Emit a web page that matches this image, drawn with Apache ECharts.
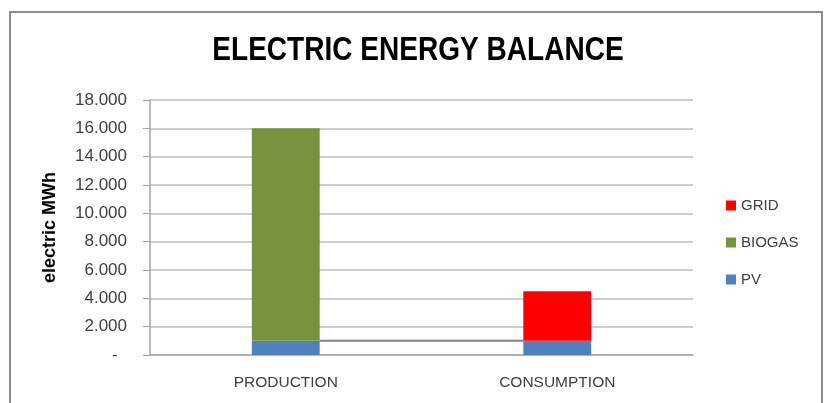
<!DOCTYPE html>
<html>
<head>
<meta charset="utf-8">
<script src="https://cdn.jsdelivr.net/npm/echarts@6/dist/echarts.min.js"></script>
<style>
html,body{margin:0;padding:0;background:#fff;}
#c{width:824px;height:403px;}
</style>
</head>
<body>
<div id="c"></div>
<script>
var categories = ['PRODUCTION', 'CONSUMPTION'];
var pv = [1000, 1000];
var biogas = [15000, 0];
var grid = [0, 3500];
var yTicks = { min: 0, max: 18000, interval: 2000 };
var title = 'ELECTRIC ENERGY BALANCE';
var yName = 'electric MWh';

var FONT = '"Liberation Sans", Arial, sans-serif';
var BAR_W = '25%';

function fmt(v) {
  if (v === 0) return '-  ';
  var s = String(Math.round(v));
  return s.replace(/\B(?=(\d{3})+(?!\d))/g, '.');
}

var chart = echarts.init(document.getElementById('c'));
chart.setOption({
  animation: false,
  backgroundColor: '#fff',
  graphic: [{
    type: 'rect',
    shape: { x: 10, y: 12, width: 812, height: 420 },
    style: { fill: 'none', stroke: '#8c8c8c', lineWidth: 2 },
    silent: true, z: 100
  }, {
    type: 'text',
    x: 418, y: 50.5,
    scaleX: 0.85,
    silent: true,
    style: {
      text: title,
      align: 'center',
      verticalAlign: 'middle',
      fontFamily: FONT,
      fontSize: 33,
      fontWeight: 'bold',
      fill: '#000'
    }
  }],
  legend: {
    orient: 'vertical',
    left: 721,
    top: 193,
    itemWidth: 10,
    itemHeight: 10,
    itemGap: 22,
    icon: 'rect',
    data: ['GRID', 'BIOGAS', 'PV'],
    textStyle: { fontFamily: FONT, fontSize: 15, color: '#404040' }
  },
  grid: { left: 150, right: 131, top: 100, bottom: 48 },
  xAxis: {
    type: 'category',
    data: categories,
    axisLine: { lineStyle: { color: '#a6a6a6', width: 1.5 } },
    axisTick: { show: false },
    axisLabel: { fontFamily: FONT, fontSize: 15.5, color: '#404040', margin: 20 }
  },
  yAxis: {
    type: 'value',
    min: yTicks.min, max: yTicks.max, interval: yTicks.interval,
    name: yName,
    nameLocation: 'middle',
    nameGap: 91,
    nameTextStyle: { fontFamily: FONT, fontSize: 18, fontWeight: 'bold', color: '#000' },
    axisLine: { show: true, lineStyle: { color: '#a6a6a6', width: 1.5 } },
    axisTick: { show: true, length: 7, lineStyle: { color: '#a6a6a6' } },
    axisLabel: { fontFamily: FONT, fontSize: 17, color: '#404040', margin: 23, formatter: fmt },
    splitLine: { lineStyle: { color: '#bdbdbd', width: 1.5 } }
  },
  series: [
    { name: 'PV', type: 'bar', stack: 's', data: pv, barWidth: BAR_W, itemStyle: { color: '#4f81bd' } },
    { name: 'BIOGAS', type: 'bar', stack: 's', data: biogas, barWidth: BAR_W, itemStyle: { color: '#77933c' } },
    { name: 'GRID', type: 'bar', stack: 's', data: grid, barWidth: BAR_W, itemStyle: { color: '#ff0000' } },
    {
      name: 'seriesLine', type: 'custom', silent: true, z: 1,
      encode: { x: 0, y: [1, 2] },
      data: [[0, pv[0], pv[1]]],
      renderItem: function (params, api) {
        var p0 = api.coord([0, api.value(1)]);
        var p1 = api.coord([1, api.value(2)]);
        var hw = api.size([1, 0])[0] * 0.25 / 2;
        return {
          type: 'line',
          shape: { x1: p0[0] + hw, y1: p0[1], x2: p1[0] - hw, y2: p1[1] },
          style: { stroke: '#808080', lineWidth: 2 }
        };
      }
    }
  ]
});
</script>
</body>
</html>
